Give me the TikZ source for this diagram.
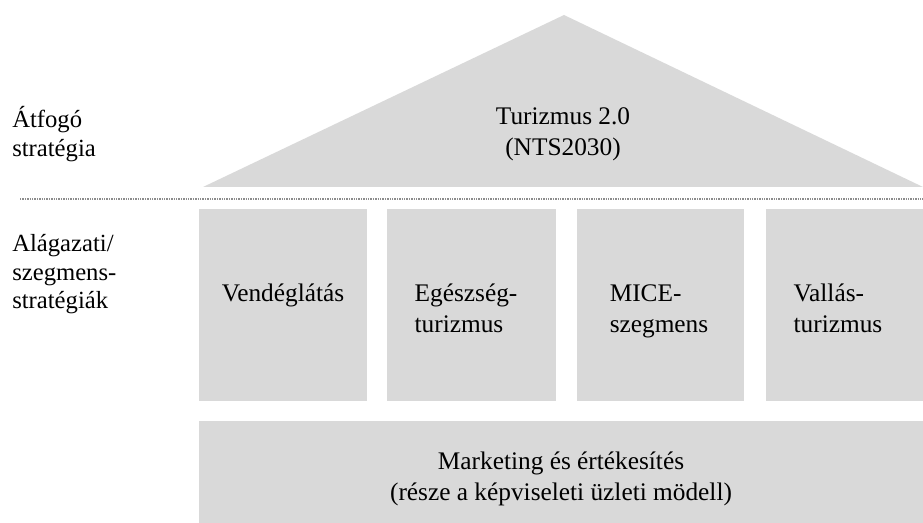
\documentclass[tikz,border=0pt]{standalone}
\usepackage{fontspec}
\setmainfont{Liberation Serif}
\usetikzlibrary{positioning}
\definecolor{pillargray}{HTML}{D9D9D9}
\definecolor{dotgray}{HTML}{8C8C8C}

\begin{document}
\begin{tikzpicture}[x=0.75pt,y=-0.75pt,
    txt/.style={font=\fontsize{19}{23}\selectfont, align=left, inner sep=0pt},
    ctxt/.style={txt, align=center},
    side/.style={txt, font=\fontsize{18.5}{21.5}\selectfont, anchor=north west}]

    \useasboundingbox (0,0) rectangle (923,523);

    % roof
    \fill[pillargray] (203,187) -- (564,15) -- (923,187) -- cycle;
    \node[ctxt] (roof) at (563,134) {Turizmus 2.0\\(NTS2030)};

    \draw[dotgray, line width=1.6pt, dash pattern=on 1.1pt off 0.7pt] (20,199) -- (923,199);

    % pillars
    \foreach \xa/\xb in {199/367, 387/556, 577/744, 766/923}
        \fill[pillargray] (\xa,209) rectangle (\xb,401);
    \node[txt, anchor=north] (vend) at (283,280) {\strut Vendéglátás};
    \node[txt, anchor=north] (egesz) at (466,280) {\strut Egészség-\\turizmus};
    \node[txt, anchor=north] (mice) at (659,280) {\strut MICE-\\szegmens};
    \node[txt, anchor=north] (vallas) at (838,280) {\strut Vallás-\\turizmus};

    % foundation
    \fill[pillargray] (199,421) rectangle (923,523);
    \node[ctxt] (mark) at (561,479) {Marketing és értékesítés\\(része a képviseleti üzleti mödell)};

    % side labels
    \node[side] (atfogo) at (12,106) {Átfogó\\stratégia};
    \node[side] (alag) at (12,234) {Alágazati/\\szegmens-\\stratégiák};

\end{tikzpicture}
\end{document}
